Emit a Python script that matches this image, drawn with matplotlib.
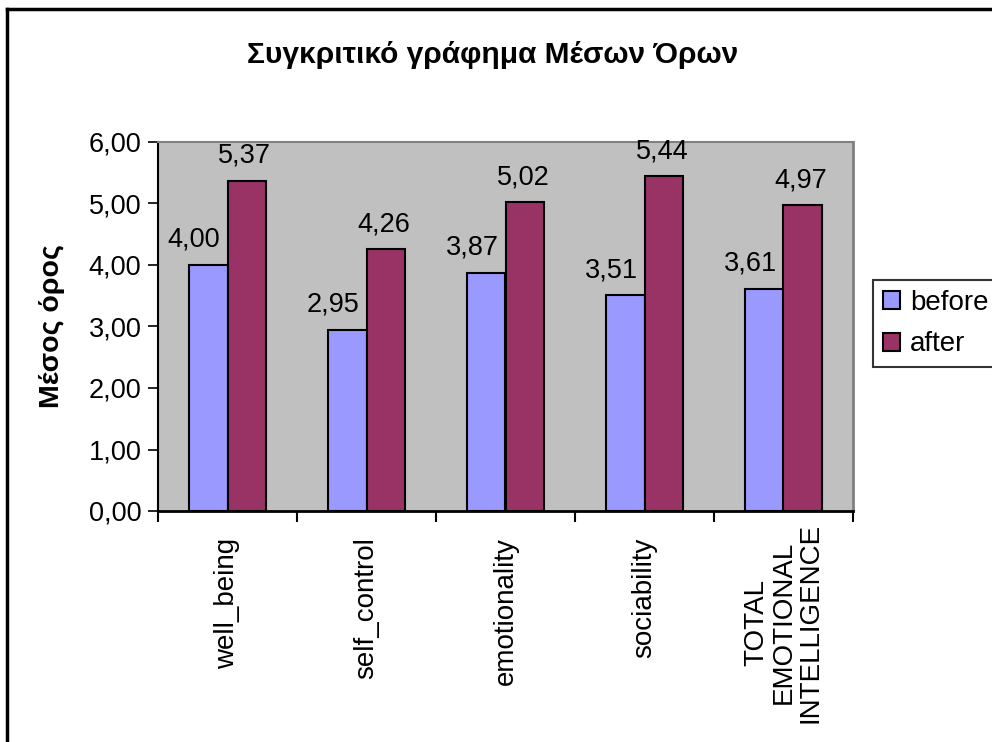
import matplotlib
matplotlib.use("Agg")
import matplotlib.pyplot as plt
import matplotlib.transforms as mtransforms
import numpy as np
from matplotlib.lines import Line2D

categories = ["well_being", "self_control", "emotionality", "sociability",
              "TOTAL\nEMOTIONAL\nINTELLIGENCE"]
before = [4.00, 2.95, 3.87, 3.51, 3.61]
after = [5.37, 4.26, 5.02, 5.44, 4.97]
series_names = ["before", "after"]
yticks = [0, 1, 2, 3, 4, 5, 6]
title = "Συγκριτικό γράφημα Μέσων Όρων"
ylabel = "Μέσος όρος"

plt.rcParams['font.family'] = ['Liberation Sans', 'DejaVu Sans']

W, H = 992, 742
fig = plt.figure(figsize=(W / 100, H / 100), dpi=100)
fig.patch.set_facecolor("white")

FS = 19.5

# axes placement in pixels
L, R, T, B = 158, 853, 142, 511
ax = fig.add_axes([L / W, 1 - B / H, (R - L) / W, (B - T) / H])
ax.set_facecolor("#C0C0C0")

x = np.arange(len(categories))
bw = 0.28
ax.bar(x - bw / 2, before, bw, color="#9999FF", edgecolor="black", linewidth=1.5,
       label=series_names[0], zorder=3)
ax.bar(x + bw / 2, after, bw, color="#993366", edgecolor="black", linewidth=1.5,
       label=series_names[1], zorder=3)

for xi, v in zip(x - bw / 2, before):
    ax.annotate(f"{v:.2f}".replace(".", ","), (xi, v), xytext=(-14, 18),
                textcoords="offset pixels", ha="center", va="baseline", fontsize=FS)
for xi, v in zip(x + bw / 2, after):
    ax.annotate(f"{v:.2f}".replace(".", ","), (xi, v), xytext=(-2, 18),
                textcoords="offset pixels", ha="center", va="baseline", fontsize=FS)

ax.set_xlim(-0.5, len(categories) - 0.5)
ax.set_ylim(0, 6)
ax.set_yticks(yticks)
ax.set_yticklabels([f"{t:.2f}".replace(".", ",") for t in yticks], fontsize=FS)
ax.set_xticks(x)
ax.set_xticklabels(categories, rotation=90, fontsize=20, va="top", ha="center",
                   multialignment="center", linespacing=1.05)
ax.tick_params(axis="x", length=0, pad=19)
ax.set_xticks(np.arange(len(categories) + 1) - 0.5, minor=True)
ax.tick_params(axis="x", which="minor", length=8, width=1.5, direction="out", color="black")
ax.tick_params(axis="y", length=7, width=1.2, direction="out", pad=5)
last = ax.get_xticklabels()[-1]
last.set_transform(last.get_transform() +
                   mtransforms.ScaledTranslation(0, 15 / 100, fig.dpi_scale_trans))

ax.spines["left"].set_color("black")
ax.spines["left"].set_linewidth(1.5)
ax.spines["bottom"].set_color("black")
ax.spines["bottom"].set_linewidth(2)
ax.spines["top"].set_color("#808080")
ax.spines["top"].set_linewidth(1.5)
ax.spines["right"].set_color("#808080")
ax.spines["right"].set_linewidth(2)

ax.set_ylabel(ylabel, fontsize=20.5, fontweight="bold", va="center")
ax.yaxis.set_label_coords((52 - L) / (R - L), 0.5)

fig.text(493 / W, 1 - 55 / H, title, ha="center", va="center", fontsize=21.5,
         fontweight="bold")

leg = fig.legend(loc="upper left", bbox_to_anchor=(873 / W, 1 - 280 / H),
                 fontsize=20, frameon=True, fancybox=False, edgecolor="black",
                 handlelength=0.62, handleheight=0.62, handletextpad=0.36,
                 borderpad=0.36, labelspacing=0.55, borderaxespad=0)
leg.get_frame().set_linewidth(1.5)
for h in leg.legend_handles:
    h.set_linewidth(1.5)

# outer chart-area border (left and top edges visible)
fig.add_artist(Line2D([7 / W, 7 / W], [0, 1 - 9 / H], color="black", lw=2.5,
                      transform=fig.transFigure))
fig.add_artist(Line2D([7 / W, 1], [1 - 9 / H, 1 - 9 / H], color="black", lw=2.5,
                      transform=fig.transFigure))

fig.savefig("out.png", dpi=100)
